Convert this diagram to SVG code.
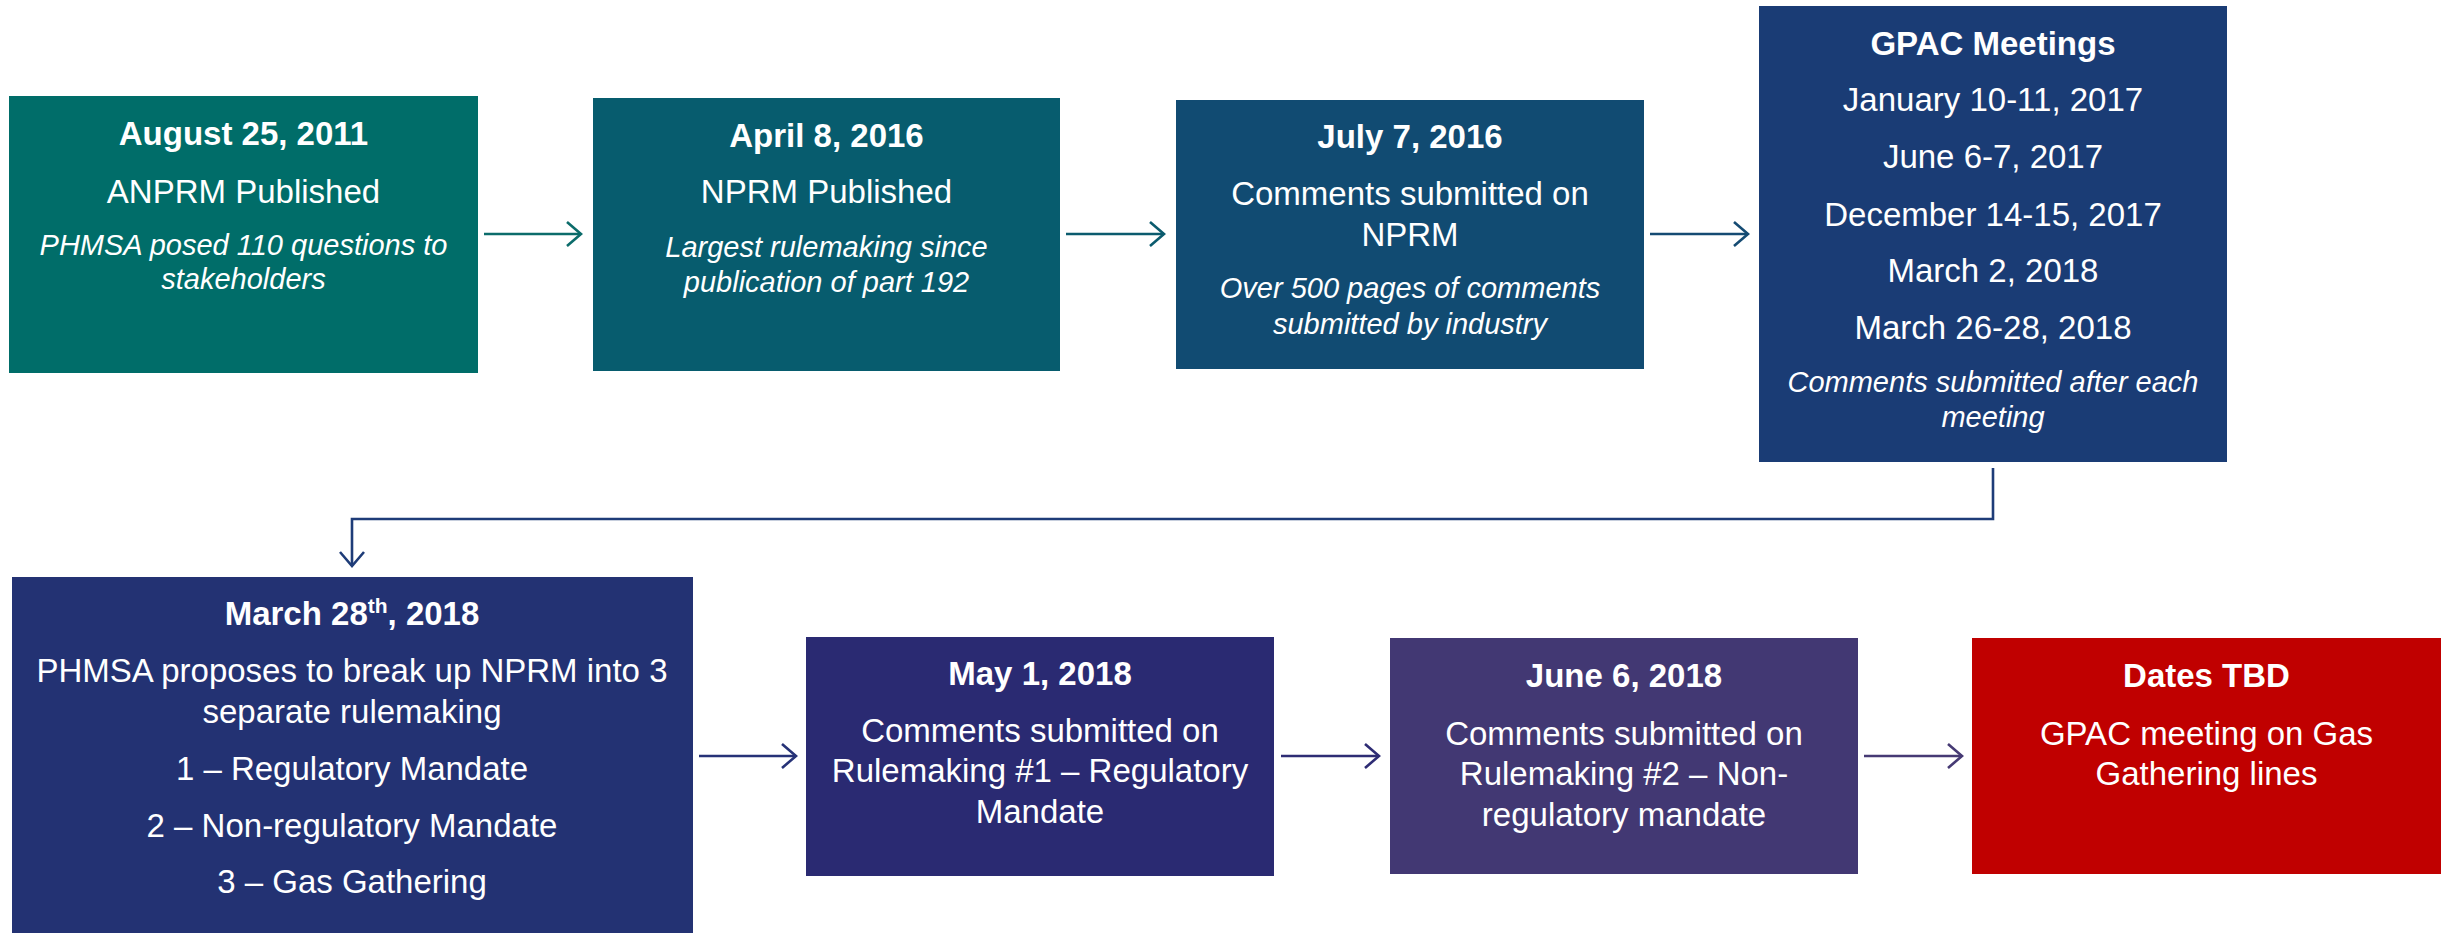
<svg xmlns="http://www.w3.org/2000/svg" width="2445" height="933" viewBox="0 0 2445 933">
  <style>
    text { font-family: "Liberation Sans", Arial, sans-serif; fill: #ffffff; text-anchor: middle; }
    .t { font-weight: bold; font-size: 33px; }
    .r { font-size: 33px; }
    .i { font-style: italic; font-size: 29px; }
    .ln { fill: none; stroke-width: 2.6; }
  </style>
  <defs>
    <marker id="a1" markerUnits="userSpaceOnUse" markerWidth="30" markerHeight="30" refX="0" refY="0" viewBox="-16 -15 20 30" orient="auto">
      <path d="M-14,-12 L0,0 L-14,12" fill="none" stroke="#0C6C6B" stroke-width="2.6"/>
    </marker>
    <marker id="a2" markerUnits="userSpaceOnUse" markerWidth="30" markerHeight="30" refX="0" refY="0" viewBox="-16 -15 20 30" orient="auto">
      <path d="M-14,-12 L0,0 L-14,12" fill="none" stroke="#0B5B6E" stroke-width="2.6"/>
    </marker>
    <marker id="a3" markerUnits="userSpaceOnUse" markerWidth="30" markerHeight="30" refX="0" refY="0" viewBox="-16 -15 20 30" orient="auto">
      <path d="M-14,-12 L0,0 L-14,12" fill="none" stroke="#154B73" stroke-width="2.6"/>
    </marker>
    <marker id="a4" markerUnits="userSpaceOnUse" markerWidth="30" markerHeight="30" refX="0" refY="0" viewBox="-16 -15 20 30" orient="auto">
      <path d="M-14,-12 L0,0 L-14,12" fill="none" stroke="#1E3C78" stroke-width="2.6"/>
    </marker>
    <marker id="a5" markerUnits="userSpaceOnUse" markerWidth="30" markerHeight="30" refX="0" refY="0" viewBox="-16 -15 20 30" orient="auto">
      <path d="M-14,-12 L0,0 L-14,12" fill="none" stroke="#263277" stroke-width="2.6"/>
    </marker>
    <marker id="a6" markerUnits="userSpaceOnUse" markerWidth="30" markerHeight="30" refX="0" refY="0" viewBox="-16 -15 20 30" orient="auto">
      <path d="M-14,-12 L0,0 L-14,12" fill="none" stroke="#2E2C74" stroke-width="2.6"/>
    </marker>
    <marker id="a7" markerUnits="userSpaceOnUse" markerWidth="30" markerHeight="30" refX="0" refY="0" viewBox="-16 -15 20 30" orient="auto">
      <path d="M-14,-12 L0,0 L-14,12" fill="none" stroke="#463A74" stroke-width="2.6"/>
    </marker>
  </defs>

  <rect width="2445" height="933" fill="#ffffff"/>

  <!-- connectors between the timeline steps -->
  <g id="connectors">
    <path class="ln" stroke="#0C6C6B" d="M484 234 H581" marker-end="url(#a1)"/>
    <path class="ln" stroke="#0B5B6E" d="M1066 234 H1164" marker-end="url(#a2)"/>
    <path class="ln" stroke="#154B73" d="M1650 234 H1748" marker-end="url(#a3)"/>
    <path class="ln" stroke="#1E3C78" d="M1993 468 V519 H352 V566" marker-end="url(#a4)"/>
    <path class="ln" stroke="#263277" d="M699 756 H796" marker-end="url(#a5)"/>
    <path class="ln" stroke="#2E2C74" d="M1281 756 H1379" marker-end="url(#a6)"/>
    <path class="ln" stroke="#463A74" d="M1864 756 H1962" marker-end="url(#a7)"/>
  </g>

  <g id="step-anprm">
    <rect x="9" y="96" width="469" height="277" fill="#006D69"/>
    <text class="t" x="243.5" y="145">August 25, 2011</text>
    <text class="r" x="243.5" y="203">ANPRM Published</text>
    <text class="i" x="243.5" y="255">PHMSA posed 110 questions to</text>
    <text class="i" x="243.5" y="289">stakeholders</text>
  </g>

  <g id="step-nprm">
    <rect x="593" y="98" width="467" height="273" fill="#075C6E"/>
    <text class="t" x="826.5" y="147">April 8, 2016</text>
    <text class="r" x="826.5" y="203">NPRM Published</text>
    <text class="i" x="826.5" y="257">Largest rulemaking since</text>
    <text class="i" x="826.5" y="292">publication of part 192</text>
  </g>

  <g id="step-comments-nprm">
    <rect x="1176" y="100" width="468" height="269" fill="#114B72"/>
    <text class="t" x="1410" y="148">July 7, 2016</text>
    <text class="r" x="1410" y="205">Comments submitted on</text>
    <text class="r" x="1410" y="246">NPRM</text>
    <text class="i" x="1410" y="298">Over 500 pages of comments</text>
    <text class="i" x="1410" y="334">submitted by industry</text>
  </g>

  <g id="step-gpac">
    <rect x="1759" y="6" width="468" height="456" fill="#1A3C75"/>
    <text class="t" x="1993" y="55">GPAC Meetings</text>
    <text class="r" x="1993" y="111">January 10-11, 2017</text>
    <text class="r" x="1993" y="168">June 6-7, 2017</text>
    <text class="r" x="1993" y="226">December 14-15, 2017</text>
    <text class="r" x="1993" y="282">March 2, 2018</text>
    <text class="r" x="1993" y="339">March 26-28, 2018</text>
    <text class="i" x="1993" y="392">Comments submitted after each</text>
    <text class="i" x="1993" y="427">meeting</text>
  </g>

  <g id="step-split">
    <rect x="12" y="577" width="681" height="356" fill="#233273"/>
    <text class="t" x="352" y="625">March 28<tspan font-size="21" dy="-12">th</tspan><tspan dy="12">, 2018</tspan></text>
    <text class="r" x="352" y="682">PHMSA proposes to break up NPRM into 3</text>
    <text class="r" x="352" y="723">separate rulemaking</text>
    <text class="r" x="352" y="780">1 – Regulatory Mandate</text>
    <text class="r" x="352" y="837">2 – Non-regulatory Mandate</text>
    <text class="r" x="352" y="893">3 – Gas Gathering</text>
  </g>

  <g id="step-rulemaking-1">
    <rect x="806" y="637" width="468" height="239" fill="#2A2A72"/>
    <text class="t" x="1040" y="685">May 1, 2018</text>
    <text class="r" x="1040" y="742">Comments submitted on</text>
    <text class="r" x="1040" y="782">Rulemaking #1 – Regulatory</text>
    <text class="r" x="1040" y="823">Mandate</text>
  </g>

  <g id="step-rulemaking-2">
    <rect x="1390" y="638" width="468" height="236" fill="#423873"/>
    <text class="t" x="1624" y="687">June 6, 2018</text>
    <text class="r" x="1624" y="745">Comments submitted on</text>
    <text class="r" x="1624" y="785">Rulemaking #2 – Non-</text>
    <text class="r" x="1624" y="826">regulatory mandate</text>
  </g>

  <g id="step-gas-gathering">
    <rect x="1972" y="638" width="469" height="236" fill="#C00000"/>
    <text class="t" x="2206.5" y="687">Dates TBD</text>
    <text class="r" x="2206.5" y="745">GPAC meeting on Gas</text>
    <text class="r" x="2206.5" y="785">Gathering lines</text>
  </g>
</svg>
